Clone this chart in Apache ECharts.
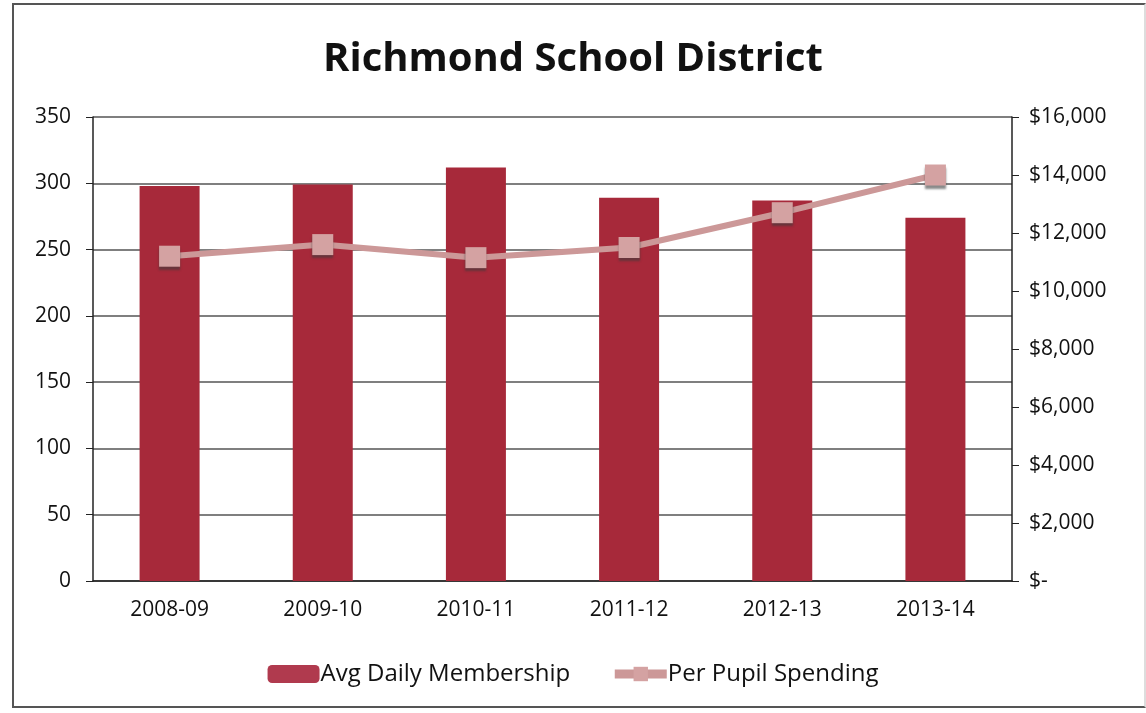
<!DOCTYPE html>
<html>
<head>
<meta charset="utf-8">
<script src="https://cdn.jsdelivr.net/npm/echarts@6/dist/echarts.min.js"></script>
<style>
  html, body { margin: 0; padding: 0; background: #fff; }
  #chart { width: 1146px; height: 713px; }
  #frame {
    position: absolute; left: 12px; top: 3px; width: 1134px; height: 705px;
    border: 2px solid #555; border-right-color: #ddd; box-sizing: border-box; pointer-events: none;
  }
</style>
</head>
<body>
<div id="chart"></div>
<div id="frame"></div>
<script>
// values
const years = ['2008-09', '2009-10', '2010-11', '2011-12', '2012-13', '2013-14']
const membership = [298, 299, 312, 289, 287, 274]
const spending = [11200, 11600, 11150, 11500, 12700, 14000]

const chart = echarts.init(document.getElementById('chart'))
const font = '"Open Sans", sans-serif'

chart.setOption({
  animation: false,
  title: {
    text: 'Richmond School District',
    left: 'center',
    top: 35,
    textStyle: { fontFamily: font, fontSize: 40, fontWeight: 'bold', color: '#111' }
  },
  grid: { left: 93, right: 134, top: 117, bottom: 132 },
  legend: {
    bottom: 22,
    left: 'center',
    itemGap: 40,
    itemWidth: 52,
    itemHeight: 18,
    textStyle: { fontFamily: font, fontSize: 24, color: '#111', padding: [0, 0, 0, -4] },
    data: [
      { name: 'Avg Daily Membership', itemStyle: { color: '#b03a4e' } },
      { name: 'Per Pupil Spending', lineStyle: { width: 9, color: '#cc9898' } }
    ]
  },
  xAxis: {
    type: 'category',
    data: years,
    axisLine: { lineStyle: { color: '#222', width: 1.5 } },
    axisTick: { length: 7, lineStyle: { color: '#222' } },
    axisLabel: { fontFamily: font, fontSize: 21, color: '#111', margin: 19 }
  },
  yAxis: [
    {
      type: 'value',
      min: 0, max: 350, interval: 50,
      axisLine: { show: true, lineStyle: { color: '#222', width: 1.5 } },
      axisTick: { show: true, length: 7, lineStyle: { color: '#222' } },
      axisLabel: { fontFamily: font, fontSize: 21, color: '#111', margin: 22 },
      splitLine: { lineStyle: { color: '#555', width: 1.5 } }
    },
    {
      type: 'value',
      min: 0, max: 16000, interval: 2000,
      axisLine: { show: true, lineStyle: { color: '#222', width: 1.5 } },
      axisTick: { show: true, length: 7, lineStyle: { color: '#222' } },
      axisLabel: {
        fontFamily: font, fontSize: 21, color: '#111', margin: 17,
        formatter: v => v === 0 ? '$-' : '$' + v.toLocaleString('en-US')
      },
      splitLine: { show: false }
    }
  ],
  series: [
    {
      name: 'Avg Daily Membership',
      type: 'bar',
      data: membership,
      barWidth: 60,
      itemStyle: { color: '#a7293a' }
    },
    {
      name: 'Per Pupil Spending',
      type: 'line',
      yAxisIndex: 1,
      data: spending,
      symbol: 'rect',
      symbolSize: 21,
      lineStyle: { color: '#cc9898', width: 6 },
      itemStyle: {
        color: '#d4a2a2',
        shadowColor: 'rgba(60,60,60,0.6)',
        shadowOffsetY: 3,
        shadowBlur: 2
      }
    }
  ]
})
</script>
</body>
</html>
